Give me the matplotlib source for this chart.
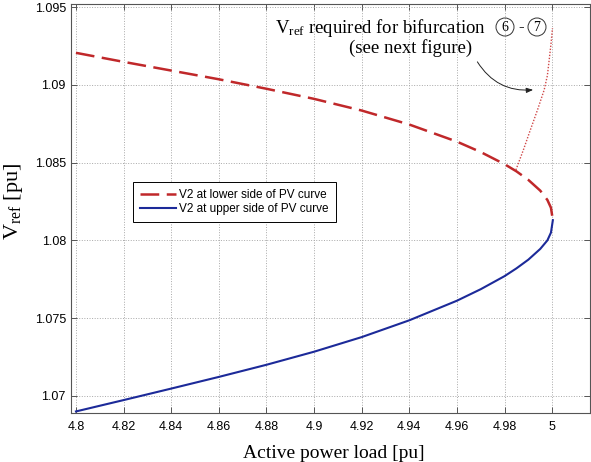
import matplotlib
matplotlib.use("Agg")
import matplotlib.pyplot as plt
from matplotlib.patches import Ellipse

# lower side of PV curve (red dashed)
p_low = [4.8, 4.82, 4.84, 4.86, 4.88, 4.90, 4.92, 4.94, 4.96, 4.97, 4.98, 4.985,
         4.99, 4.995, 4.998, 4.9995, 5.0003]
v_low = [1.09206, 1.09148, 1.09092, 1.09036, 1.08975, 1.08910, 1.08835, 1.08745,
         1.08635, 1.08568, 1.08490, 1.08444, 1.08389, 1.08320, 1.08260, 1.08210, 1.0813]

# upper side of PV curve (blue solid)
p_up = [4.8, 4.82, 4.84, 4.86, 4.88, 4.90, 4.92, 4.94, 4.96, 4.97, 4.98, 4.985,
        4.99, 4.995, 4.998, 4.9995, 5.0003]
v_up = [1.0690, 1.06973, 1.07047, 1.07122, 1.07200, 1.07284, 1.07378, 1.07486,
        1.07612, 1.07686, 1.0777, 1.07820, 1.07876, 1.07945, 1.0800, 1.0805, 1.0813]

# Vref required for bifurcation 6-7 (dotted)
p_bif = [4.98478, 4.98800, 4.99036, 4.99385, 4.99666, 4.99800, 4.99876, 4.99950, 5.00014]
v_bif = [1.08453, 1.08585, 1.08689, 1.08839, 1.08968, 1.09060, 1.09161, 1.09260, 1.09365]

xticks = [4.8, 4.82, 4.84, 4.86, 4.88, 4.9, 4.92, 4.94, 4.96, 4.98, 5]
yticks = [1.07, 1.075, 1.08, 1.085, 1.09, 1.095]

plt.rcParams['mathtext.fontset'] = 'custom'
plt.rcParams['mathtext.rm'] = 'Liberation Serif'
plt.rcParams['mathtext.it'] = 'Liberation Serif:italic'

W, H = 591, 462
fig = plt.figure(figsize=(W / 100, H / 100), dpi=100)
ax = fig.add_axes([70.7 / W, 1 - 413 / H, (590 - 70.7) / W, (413 - 4) / H])

ax.plot(p_low, v_low, color='#c0282a', lw=1.8, dashes=(7.5, 3),
        label='V2 at lower side of PV curve')
ax.plot(p_up, v_up, color='#1c2a99', lw=1.5, label='V2 at upper side of PV curve')
ax.plot(p_bif, v_bif, color='#d04848', lw=1.0, ls=(0, (1, 1.2)))

ax.set_xlim(4.7978, 5.0159)
ax.set_ylim(1.0689, 1.0952)
ax.set_xticks(xticks)
ax.set_xticklabels(['4.8', '4.82', '4.84', '4.86', '4.88', '4.9', '4.92', '4.94', '4.96', '4.98', '5'])
ax.set_yticks(yticks)
ax.set_yticklabels(['1.07', '1.075', '1.08', '1.085', '1.09', '1.095'])
ax.grid(True, ls=':', lw=0.7, color='#a8a8a8')
ax.tick_params(direction='in', length=4, width=0.7, color='#555555',
               top=True, right=True, labelsize=9)
ax.tick_params(axis='x', pad=6)
ax.tick_params(axis='y', pad=3.5)
for lab in ax.get_xticklabels() + ax.get_yticklabels():
    lab.set_family('Liberation Sans')
for s in ax.spines.values():
    s.set_color('#555555')
    s.set_linewidth(0.8)

ax.set_xlabel('Active power load [pu]', family='Liberation Serif', fontsize=14)
ax.xaxis.set_label_coords(0.507, -0.078)
ax.set_ylabel(r'V$_{\mathregular{ref}}$ [pu]', family='Liberation Serif', fontsize=16)
ax.yaxis.set_label_coords(-0.088, 0.516)

leg = ax.legend(loc='upper left', bbox_to_anchor=(0.12, 0.565), borderaxespad=0,
                prop={'family': 'Liberation Sans', 'size': 8.5}, fancybox=False,
                framealpha=1, edgecolor='black', handlelength=3.0,
                handletextpad=0.3, labelspacing=0.15, borderpad=0.6)
leg.get_frame().set_linewidth(0.7)

# annotation
fig.text(275 / W, 1 - 33 / H, r'V$_{\mathregular{ref}}$ required for bifurcation',
         family='Liberation Serif', fontsize=13.5, va='baseline', ha='left')
fig.text(411 / W, 1 - 53 / H, '(see next figure)', family='Liberation Serif',
         fontsize=13.5, va='baseline', ha='center')
for cx, d in [(505, '6'), (537, '7')]:
    fig.add_artist(Ellipse((cx / W, 1 - 27 / H), 18 / W, 18 / H, transform=fig.transFigure,
                           fill=False, lw=0.7, edgecolor='#333333'))
    fig.text(cx / W, 1 - 27.5 / H, d, family='Liberation Serif', fontsize=10,
             ha='center', va='center')
fig.text(521 / W, 1 - 27 / H, '-', family='Liberation Serif', fontsize=12,
         ha='center', va='center')

ax.annotate('', xy=(4.99203, 1.08968), xytext=(4.9686, 1.09148),
            arrowprops=dict(arrowstyle='-|>,head_length=0.4,head_width=0.15', lw=0.7,
                            color='#222222', connectionstyle='arc3,rad=0.3',
                            shrinkA=0, shrinkB=0))

fig.savefig('out.png', dpi=100)
plt.close(fig)
